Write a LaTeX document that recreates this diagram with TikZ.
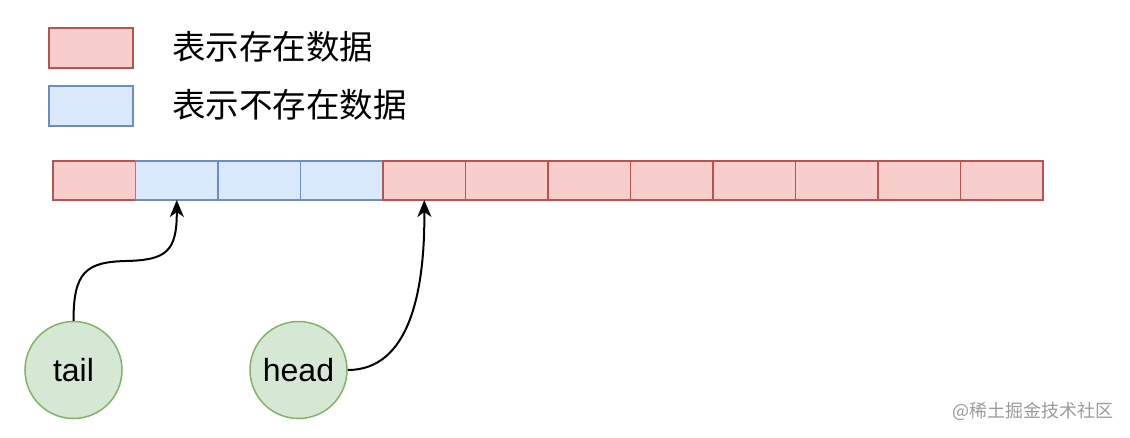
\documentclass[tikz,border=0pt]{standalone}
\usepackage{fontspec}
\setmainfont{Liberation Sans}
\newfontfamily\cjk{Noto Sans CJK SC}
\usetikzlibrary{arrows.meta}
\definecolor{redfill}{HTML}{F8CECC}
\definecolor{redline}{HTML}{B85450}
\definecolor{bluefill}{HTML}{DAE8FC}
\definecolor{blueline}{HTML}{6C8EBF}
\definecolor{greenfill}{HTML}{D5E8D4}
\definecolor{greenline}{HTML}{82B366}
\definecolor{wmgrey}{HTML}{9A9A9A}
\tikzset{
  cell/.style={draw, line width=1.5pt, minimum width=82.5pt, minimum height=39pt, inner sep=0pt, outer sep=0pt, anchor=north west},
  full/.style={cell, fill=redfill, draw=redline},
  empty/.style={cell, fill=bluefill, draw=blueline},
  legendbox/.style={draw, line width=1.5pt, minimum width=84pt, minimum height=40pt, inner sep=0pt, anchor=north west},
  legendtext/.style={anchor=west, inner sep=0pt, font=\cjk\fontsize{33.5}{36}\selectfont},
  pointer/.style={circle, draw=greenline, fill=greenfill, line width=1.5pt, minimum size=97pt, inner sep=0pt, font=\fontsize{32}{36}\selectfont},
  tipshape/.tip={Stealth[length=17pt, width=14pt, inset=5pt]},
  link/.style={draw=black, line width=2pt, -tipshape}
}
\begin{document}
\begin{tikzpicture}[x=1pt, y=-1pt]
\useasboundingbox (0,0) rectangle (1130,437);
% legend
\node[legendbox, fill=redfill, draw=redline] (lr) at (48,27) {};
\node[legendbox, fill=bluefill, draw=blueline] (lb) at (48,85) {};
\node[legendtext] (lrt) at (172,47) {表示存在数据};
\node[legendtext] (lbt) at (172,105) {表示不存在数据};
% array
\node[full]  (c0)  at (53,161) {};
\node[empty] (c1)  at (135.5,161) {};
\node[empty] (c2)  at (218,161) {};
\node[empty] (c3)  at (300.5,161) {};
\node[full]  (c4)  at (383,161) {};
\node[full]  (c5)  at (465.5,161) {};
\node[full]  (c6)  at (548,161) {};
\node[full]  (c7)  at (630.5,161) {};
\node[full]  (c8)  at (713,161) {};
\node[full]  (c9)  at (795.5,161) {};
\node[full]  (c10) at (878,161) {};
\node[full]  (c11) at (960.5,161) {};
% pointers
\node[pointer] (tail) at (73.5,370) {tail};
\node[pointer] (head) at (298.5,370) {head};
\coordinate (tmid) at (126,261);
\draw[link] (tail.north) .. controls (73.5,272) and (86,262) .. (tmid) .. controls (166,260) and (177,252) .. (c1.south);
\draw[link] (head.east) .. controls (410,370) and (425,290) .. (c4.south);
% watermark
\node[anchor=west, inner sep=0pt, text=wmgrey, font=\cjk\fontsize{18}{20}\selectfont] (wm) at (952,411) {@稀土掘金技术社区};
\end{tikzpicture}
\end{document}
